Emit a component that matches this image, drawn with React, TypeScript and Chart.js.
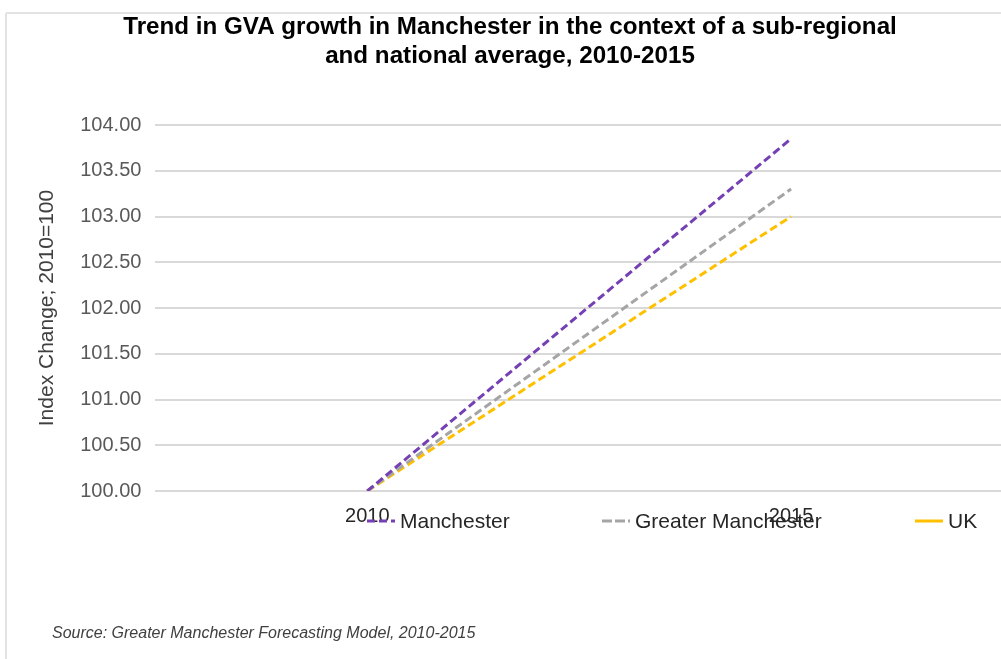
import React, { useEffect, useRef } from "react";
import { Chart, registerables } from "chart.js";

Chart.register(...registerables);

const years = ["2010", "2015"];
const manchester = [100, 103.85];
const greaterManchester = [100, 103.3];
const uk = [100, 103.0];
const seriesNames = ["Manchester", "Greater Manchester", "UK"];
const seriesColors = ["#7440B4", "#A5A5A5", "#FFC000"];
const yMin = 100;
const yMax = 104;
const yStep = 0.5;
const titleLines = [
  "Trend in GVA growth in Manchester in the context of a sub-regional",
  "and national average, 2010-2015",
];
const yAxisTitle = "Index Change; 2010=100";
const sourceNote = "Source: Greater Manchester Forecasting Model, 2010-2015";

const FONT = "'Liberation Sans', Arial, sans-serif";

// layout / style constants
const legendMarkerX = [367, 602, 915];
const legendMarkerDash = [[8, 4], [10, 3], []];
const legendY = 521;
const legendMarkerLen = 28;
const titleCenterX = 510;
const titleY = [27, 56];

const overlayPlugin = {
  id: "overlay",
  beforeDraw(chart: any) {
    const ctx = chart.ctx;
    ctx.save();
    ctx.strokeStyle = "#e3e3e3";
    ctx.lineWidth = 2;
    ctx.beginPath();
    ctx.moveTo(6, 13);
    ctx.lineTo(chart.width, 13);
    ctx.moveTo(6, 13);
    ctx.lineTo(6, chart.height);
    ctx.stroke();
    ctx.restore();
  },
  afterDraw(chart: any) {
    const ctx = chart.ctx;
    ctx.save();
    // title
    ctx.fillStyle = "#000000";
    ctx.font = `bold 24.2px ${FONT}`;
    ctx.textAlign = "center";
    ctx.textBaseline = "middle";
    titleLines.forEach((t, i) => ctx.fillText(t, titleCenterX, titleY[i]));
    // legend
    chart.data.datasets.forEach((ds: any, i: number) => {
      const x0 = legendMarkerX[i];
      ctx.strokeStyle = ds.borderColor;
      ctx.lineWidth = 3;
      ctx.setLineDash(legendMarkerDash[i]);
      ctx.beginPath();
      ctx.moveTo(x0, legendY);
      ctx.lineTo(x0 + legendMarkerLen, legendY);
      ctx.stroke();
      ctx.setLineDash([]);
      ctx.fillStyle = "#262626";
      ctx.font = `21px ${FONT}`;
      ctx.textBaseline = "middle";
      ctx.textAlign = "left";
      ctx.fillText(ds.label, x0 + legendMarkerLen + 5, legendY + 1);
    });
    // source
    ctx.fillStyle = "#404040";
    ctx.font = `italic 16px ${FONT}`;
    ctx.textAlign = "left";
    ctx.textBaseline = "middle";
    ctx.fillText(sourceNote, 52, 634);
    ctx.restore();
  },
};

export default function App() {
  const ref = useRef<HTMLCanvasElement>(null);
  useEffect(() => {
    if (!ref.current) return;
    const series = [manchester, greaterManchester, uk];
    const chart = new Chart(ref.current, {
      type: "line",
      data: {
        labels: years,
        datasets: series.map((d, i) => ({
          label: seriesNames[i],
          data: d,
          borderColor: seriesColors[i],
          backgroundColor: seriesColors[i],
          borderWidth: 3,
          borderDash: [8, 4],
          pointRadius: 0,
          tension: 0,
          fill: false,
        })),
      },
      options: {
        responsive: false,
        animation: false,
        events: [],
        layout: { padding: { top: 125, left: 0, right: 0, bottom: 118 } },
        plugins: {
          legend: { display: false },
          tooltip: { enabled: false },
          title: { display: false },
        },
        scales: {
          x: {
            offset: true,
            grid: { display: false, drawTicks: false },
            border: { display: false },
            ticks: {
              color: "#262626",
              font: { family: FONT, size: 20 },
              padding: 13,
              maxRotation: 0,
            },
          },
          y: {
            min: yMin,
            max: yMax,
            grid: { color: "#d9d9d9", lineWidth: 2, drawTicks: false },
            border: { display: false },
            ticks: {
              stepSize: yStep,
              color: "#595959",
              font: { family: FONT, size: 20 },
              padding: 14,
              callback: (v: any) => Number(v).toFixed(2),
            },
            title: {
              display: true,
              text: yAxisTitle,
              color: "#404040",
              font: { family: FONT, size: 21 },
              padding: { top: 35, bottom: 6 },
            },
          },
        },
      },
      plugins: [overlayPlugin],
    });
    return () => chart.destroy();
  }, []);
  return (
    <div
      style={{
        position: "absolute",
        left: 0,
        top: 0,
        width: 1001,
        height: 659,
        overflow: "hidden",
        background: "#fff",
      }}
    >
      <canvas ref={ref} width={1003} height={659} style={{ display: "block" }} />
    </div>
  );
}
